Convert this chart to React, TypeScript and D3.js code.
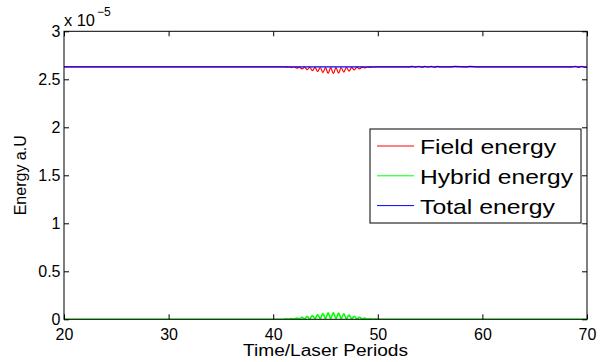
import React, { useEffect, useRef } from 'react';
import * as d3 from 'd3';

// values in units of 1e-5
const xTicks = [20, 30, 40, 50, 60, 70];
const yTicks = [0, 0.5, 1, 1.5, 2, 2.5, 3];

const burstTimes = [41.0, 41.25, 41.5, 41.75, 42.0, 42.25, 42.5, 42.75, 43.0, 43.25, 43.5, 43.75, 44.0, 44.25, 44.5, 44.75, 45.0, 45.25, 45.5, 45.75, 46.0, 46.25, 46.5, 46.75, 47.0, 47.25, 47.5, 47.75, 48.0, 48.25, 48.5, 48.75, 49.0, 49.25, 49.5, 49.75, 50.0];
const hybridBurst = [0, 0.004, 0.001, 0.008, 0.002, 0.014, 0.003, 0.021, 0.004, 0.03, 0.005, 0.04, 0.006, 0.05, 0.007, 0.06, 0.008, 0.068, 0.008, 0.071, 0.008, 0.066, 0.007, 0.056, 0.006, 0.044, 0.005, 0.032, 0.004, 0.021, 0.003, 0.012, 0.002, 0.006, 0.001, 0.003, 0];
const fieldBurst = [2.63, 2.626, 2.629, 2.622, 2.628, 2.616, 2.627, 2.609, 2.626, 2.6, 2.625, 2.59, 2.624, 2.58, 2.623, 2.57, 2.622, 2.562, 2.622, 2.559, 2.622, 2.564, 2.623, 2.574, 2.624, 2.586, 2.625, 2.598, 2.626, 2.609, 2.627, 2.618, 2.628, 2.624, 2.629, 2.627, 2.63];

const totalTimes = [20, 53.0, 53.3, 53.6, 53.9, 54.2, 54.5, 54.8, 55.1, 55.4, 55.7, 56.0, 57.0, 57.3, 58.5, 58.8, 59.6, 68.6, 68.9, 69.2, 69.5, 69.8, 70];
const totalValues = [2.63, 2.63, 2.635, 2.626, 2.635, 2.626, 2.634, 2.627, 2.635, 2.626, 2.634, 2.63, 2.63, 2.634, 2.63, 2.634, 2.63, 2.63, 2.636, 2.625, 2.636, 2.625, 2.63];

const legendNames = ['Field energy', 'Hybrid energy', 'Total energy'];
const legendColors = ['#ff0000', '#00ff00', '#0000ff'];

const App = () => {
  const ref = useRef<SVGSVGElement>(null);

  useEffect(() => {
    const svg = d3.select(ref.current);
    svg.selectAll('*').remove();

    const left = 64, right = 587, top = 31.3, bottom = 319.3;
    const x = d3.scaleLinear().domain([20, 70]).range([left, right]);
    const y = d3.scaleLinear().domain([0, 3]).range([bottom, top]);
    const font = 'Liberation Sans, Arial, Helvetica, sans-serif';

    svg.append('rect').attr('width', 611).attr('height', 362).attr('fill', '#fff');

    svg.append('clipPath').attr('id', 'plot').append('rect')
      .attr('x', left).attr('y', top - 1).attr('width', right - left).attr('height', bottom - top + 1);

    const line = d3.line<[number, number]>().x(d => x(d[0])).y(d => y(d[1])).curve(d3.curveMonotoneX);

    const field: [number, number][] = [[20, 2.63], ...burstTimes.map((t, i) => [t, fieldBurst[i]] as [number, number]), [70, 2.63]];
    const hybrid: [number, number][] = [[20, 0], ...burstTimes.map((t, i) => [t, hybridBurst[i]] as [number, number]), [70, 0]];
    const total: [number, number][] = totalTimes.map((t, i) => [t, totalValues[i]]);

    const plot = svg.append('g').attr('clip-path', 'url(#plot)');
    [field, hybrid, total].forEach((s, i) => {
      plot.append('path').datum(s)
        .attr('fill', 'none').attr('stroke', legendColors[i]).attr('stroke-width', i === 1 ? 1.6 : 1.2)
        .attr('d', line);
    });

    // axes, ticks pointing inward
    const styleAxis = (g: any) => {
      g.select('.domain').remove();
      g.selectAll('line').attr('stroke', '#000');
      g.selectAll('text').attr('fill', '#000').attr('font-family', font).attr('font-size', 16);
    };
    svg.append('g').attr('transform', `translate(0,${bottom})`)
      .call(d3.axisBottom(x).tickValues(xTicks).tickSizeInner(-5).tickSizeOuter(0).tickPadding(9).tickFormat(d3.format('d')))
      .call(styleAxis);
    svg.append('g').attr('transform', `translate(${left},0)`)
      .call(d3.axisLeft(y).tickValues(yTicks).tickSizeInner(-5).tickSizeOuter(0).tickPadding(3.5).tickFormat(d => String(d)))
      .call(styleAxis);
    svg.append('g').attr('transform', `translate(0,${top})`)
      .call(d3.axisTop(x).tickValues(xTicks).tickSizeInner(-5).tickSizeOuter(0).tickFormat(() => ''))
      .call(styleAxis);
    svg.append('g').attr('transform', `translate(${right},0)`)
      .call(d3.axisRight(y).tickValues(yTicks).tickSizeInner(-5).tickSizeOuter(0).tickFormat(() => ''))
      .call(styleAxis);

    svg.append('rect').attr('x', left).attr('y', top).attr('width', right - left).attr('height', bottom - top)
      .attr('fill', 'none').attr('stroke', '#000').attr('stroke-width', 1);

    // exponent
    svg.append('text').attr('x', 64).attr('y', 26).attr('font-family', font).attr('font-size', 16)
      .attr('textLength', 31).attr('lengthAdjust', 'spacingAndGlyphs').text('x 10');
    svg.append('text').attr('x', 97).attr('y', 16).attr('font-family', font).attr('font-size', 12)
      .text('\u22125');

    // axis labels
    svg.append('text').attr('x', (left + right) / 2).attr('y', 356).attr('text-anchor', 'middle')
      .attr('font-family', font).attr('font-size', 16)
      .attr('textLength', 165).attr('lengthAdjust', 'spacingAndGlyphs').text('Time/Laser Periods');
    svg.append('text').attr('transform', `translate(26,${(top + bottom) / 2}) rotate(-90)`).attr('text-anchor', 'middle')
      .attr('font-family', font).attr('font-size', 16).text('Energy a.U');

    // legend
    const lg = svg.append('g');
    lg.append('rect').attr('x', 370).attr('y', 129).attr('width', 211).attr('height', 94)
      .attr('fill', '#fff').attr('stroke', '#000').attr('stroke-width', 1);
    const widths = [136, 153, 135];
    legendNames.forEach((name, i) => {
      const cy = 146 + i * 29.8;
      lg.append('line').attr('x1', 377).attr('x2', 414).attr('y1', cy).attr('y2', cy)
        .attr('stroke', legendColors[i]).attr('stroke-width', 1);
      lg.append('text').attr('x', 420).attr('y', cy + 8).attr('font-family', font).attr('font-size', 21)
        .attr('textLength', widths[i]).attr('lengthAdjust', 'spacingAndGlyphs').attr('fill', '#000').text(name);
    });
  }, []);

  return (
    <svg ref={ref} width={611} height={362} style={{ position: 'absolute', left: 0, top: 0 }} />
  );
};

export default App;
